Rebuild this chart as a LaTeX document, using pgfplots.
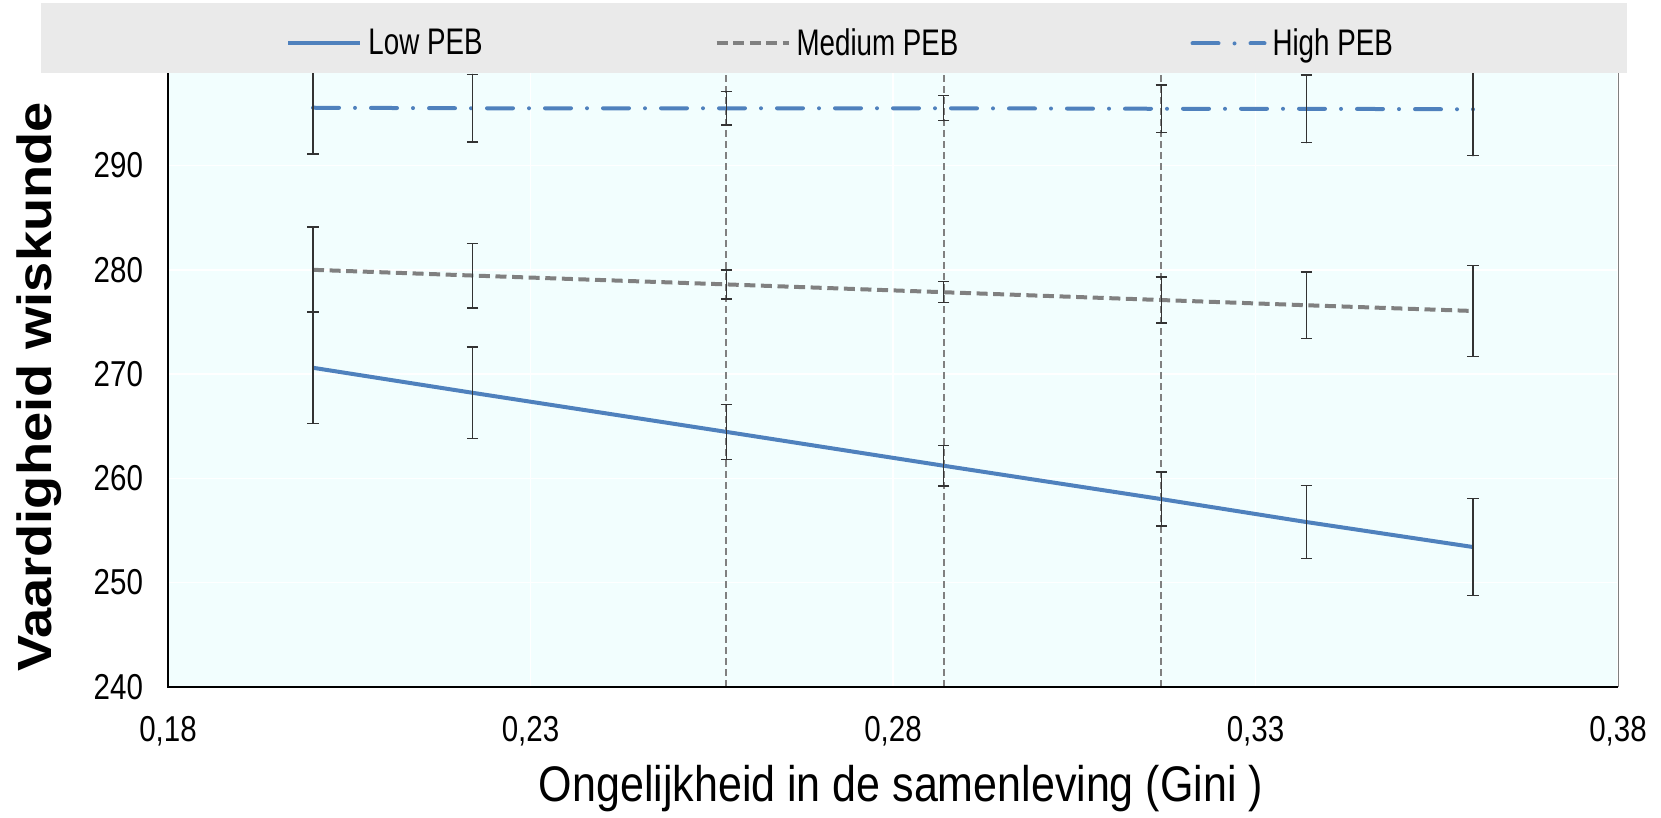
\documentclass[border=0pt]{standalone}
\usepackage{fontspec}
\setmainfont{Liberation Sans}
\newfontfamily\narrowfont[FakeStretch=0.82]{Liberation Sans}
\newfontfamily\legfont[FakeStretch=0.75]{Liberation Sans}
\newfontfamily\xlabfont[FakeStretch=0.86]{Liberation Sans}
\newfontfamily\ylabfont[FakeStretch=1.13]{Liberation Sans}
\usepackage{pgfplots}
\usepackage{pgfplotstable}
\pgfplotsset{compat=1.18}
\definecolor{lowblue}{RGB}{79,129,189}
\definecolor{medgray}{RGB}{128,128,128}
\definecolor{bgc}{RGB}{242,254,254}
\definecolor{legbg}{RGB}{234,234,234}

\pgfplotstableread{
x y e
0.200 270.60 5.35
0.222 268.20 4.40
0.257 264.45 2.65
0.287 261.20 1.95
0.317 258.00 2.60
0.337 255.80 3.50
0.360 253.40 4.65
}\lowdata
\pgfplotstableread{
x y e
0.200 280.00 4.10
0.222 279.45 3.10
0.257 278.60 1.40
0.287 277.85 1.00
0.317 277.10 2.20
0.337 276.60 3.20
0.360 276.05 4.35
}\meddata
\pgfplotstableread{
x y e
0.200 295.55 4.45
0.222 295.50 3.25
0.257 295.50 1.60
0.287 295.50 1.20
0.317 295.45 2.30
0.337 295.45 3.25
0.360 295.40 4.45
}\highdata

\pgfplotsset{
  eb/.style={
    /pgfplots/error bars/y dir=both,
    /pgfplots/error bars/y explicit,
    /pgfplots/error bars/error bar style={black!80, line width=0.7pt, solid},
    /pgfplots/error bars/error mark options={rotate=90, mark size=2.8pt, black!80, line width=0.7pt, solid},
  }
}

\begin{document}
\begin{tikzpicture}
\path[use as bounding box] (0,0) rectangle (830.5pt,409pt);
\begin{axis}[
  at={(84pt,65.65pt)}, anchor=south west,
  scale only axis, width=725pt, height=338.2pt,
  xmin=0.18, xmax=0.38, ymin=240, ymax=304.9,
  xtick={0.18,0.23,0.28,0.33,0.38},
  xticklabels={{0,18},{0,23},{0,28},{0,33},{0,38}},
  ytick={240,250,260,270,280,290},
  /pgf/number format/assume math mode=true,
  major tick length=0pt,
  axis line style={draw=none},
  grid=major, grid style={white, line width=0.7pt},
  axis background/.style={fill=bgc},
  clip=false,
  tick label style={font=\narrowfont\fontsize{18}{21}\selectfont, text=black},
  xticklabel style={yshift=-11.5pt},
  yticklabel style={xshift=-9pt},
  xlabel={Ongelijkheid in de samenleving (Gini )},
  xlabel style={font=\xlabfont\fontsize{25}{30}\selectfont, at={(axis description cs:0.5055,-0.151)}, anchor=center},
  ylabel={Vaardigheid wiskunde},
  ylabel style={font=\ylabfont\bfseries\fontsize{24}{29}\selectfont, at={(axis description cs:-0.089,0.443)}, anchor=center},
  legend style={at={(axis description cs:0.0814,0.951)}, anchor=west, draw=none, fill=none, inner sep=0pt,
    font=\legfont\fontsize{18.5}{21}\selectfont, legend columns=3,
    /tikz/every even column/.append style={column sep=114pt},
    /tikz/every odd column/.append style={column sep=1pt}},
  legend cell align=left,
  legend image code/.code={\draw[#1] (0pt,0pt) -- (36pt,0pt);},
]
\addplot[medgray, line width=1pt, dash pattern=on 3.5pt off 2pt, forget plot] coordinates {(0.257,240) (0.257,304.9)};
\addplot[medgray, line width=1pt, dash pattern=on 3.5pt off 2pt, forget plot] coordinates {(0.287,240) (0.287,304.9)};
\addplot[medgray, line width=1pt, dash pattern=on 3.5pt off 2pt, forget plot] coordinates {(0.317,240) (0.317,304.9)};

\addplot[lowblue, line width=2pt, no marks, eb] table[x=x, y=y, y error=e] {\lowdata};
\addlegendentry{Low PEB}
\addplot[medgray, line width=2pt, no marks, dash pattern=on 5.5pt off 2.8pt, eb] table[x=x, y=y, y error=e] {\meddata};
\addlegendentry{Medium PEB}
\addplot[lowblue, line width=2pt, no marks, line cap=round, dash pattern=on 13pt off 8pt on 0pt off 8pt, eb] table[x=x, y=y, y error=e] {\highdata};
\addlegendentry{High PEB}

\draw[black, line width=1pt] (rel axis cs:0,1) -- (rel axis cs:0,0) -- (rel axis cs:1,0);
\draw[gray, line width=0.5pt] (rel axis cs:1,0) -- (rel axis cs:1,1);
\fill[legbg] (axis cs:0.16248,298.87) rectangle (axis cs:0.38124,305.6);
\end{axis}
\end{tikzpicture}
\end{document}
